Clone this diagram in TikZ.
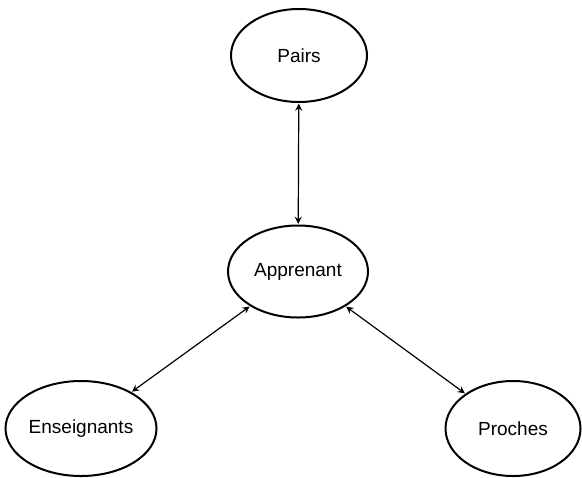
\documentclass[tikz,border=0pt]{standalone}
\usepackage{fontspec}
\setmainfont{Liberation Sans}
\usetikzlibrary{arrows,shapes}

\begin{document}
\begin{tikzpicture}[x=0.5pt, y=-0.5pt, >=stealth, main node/.style={ellipse, draw, line width=1pt, inner sep=0pt, font=\fontsize{9.5}{11}\selectfont}, link/.style={<->, line width=0.6pt, shorten <=0.3pt, shorten >=0.3pt}]
\useasboundingbox (0,0) rectangle (582,477);
\node[main node, minimum width=68pt, minimum height=46.5pt] (pairs) at (299,55.5) {Pairs};
\node[main node, minimum width=70pt, minimum height=46pt] (apprenant) at (298,271.5) {Apprenant};
\node[main node, minimum width=75.5pt, minimum height=47.5pt] (enseignants) at (81,428.5) {Enseignants};
\node[main node, minimum width=67.5pt, minimum height=47.5pt] (proches) at (513,428.5) {Proches};
\path[link]
(pairs) edge (apprenant)
(apprenant) edge (enseignants)
(apprenant) edge (proches);
\end{tikzpicture}
\end{document}
